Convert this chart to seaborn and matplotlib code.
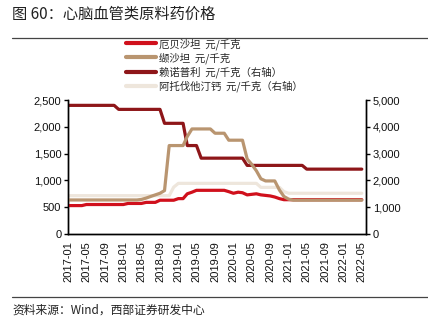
import matplotlib
matplotlib.use("Agg")
import matplotlib.pyplot as plt
import seaborn as sns
import pandas as pd
from matplotlib.lines import Line2D
from matplotlib.ticker import FuncFormatter

# ---------------- data (monthly, 2017-01 .. 2022-05) ----------------
months = pd.date_range("2017-01-01", "2022-05-01", freq="MS")

irbesartan = ([530] * 4 + [550] * 9 + [570] * 4 + [590] * 3 + [630] * 4 + [660] * 2
              + [750, 780] + [815] * 7
              + [790, 760, 780, 770, 730, 740, 750, 730, 720, 710, 690, 660]
              + [640] * 18)
valsartan = ([635] * 16 + [645, 670, 700, 730, 760, 810] + [1650] * 4 + [1820]
             + [1960] * 5 + [1880] * 3 + [1750] * 4 + [1400, 1300, 1180, 1030]
             + [990] * 3 + [820, 700, 650] + [630] * 16)
lisinopril = ([4800] * 11 + [4650] * 10 + [4130] * 5 + [3300] * 3 + [2830] * 10
              + [2560] * 13 + [2420] * 13)
atorvastatin = ([1430] * 23 + [1750] + [1890] * 18 + [1740] * 5 + [1580]
                + [1520] * 17)

labels = ["厄贝沙坦  元/千克", "缬沙坦  元/千克",
          "赖诺普利  元/千克（右轴）", "阿托伐他汀钙  元/千克（右轴）"]
colors = ["#D0101C", "#B99570", "#8E1619", "#EEE6DC"]

tick_labels = ["2017-01", "2017-05", "2017-09", "2018-01", "2018-05", "2018-09",
               "2019-01", "2019-05", "2019-09", "2020-01", "2020-05", "2020-09",
               "2021-01", "2021-05", "2021-09", "2022-01", "2022-05"]
left_ticks = [0, 500, 1000, 1500, 2000, 2500]
right_ticks = [0, 1000, 2000, 3000, 4000, 5000]

# ---------------- style ----------------
sns.set_style("white")
plt.rcParams["font.family"] = ["Liberation Sans", "Noto Sans CJK SC", "DejaVu Sans"]
CJK = ["Noto Sans CJK SC", "DejaVu Sans"]

W, H = 428, 324
fig = plt.figure(figsize=(W / 100, H / 100), dpi=100)
ax = fig.add_axes([68.3 / W, 90 / H, 297.4 / W, 134 / H])
ax2 = ax.twinx()

df_left = pd.DataFrame({"date": months, "a": irbesartan, "b": valsartan})
df_right = pd.DataFrame({"date": months, "c": lisinopril, "d": atorvastatin})

lw = 2.3
sns.lineplot(data=df_right, x="date", y="d", ax=ax2, color=colors[3], lw=lw)
sns.lineplot(data=df_right, x="date", y="c", ax=ax2, color=colors[2], lw=lw)
sns.lineplot(data=df_left, x="date", y="a", ax=ax, color=colors[0], lw=lw)
sns.lineplot(data=df_left, x="date", y="b", ax=ax, color=colors[1], lw=lw)

ax.set_zorder(ax2.get_zorder() + 1)
ax.patch.set_visible(False)

# axes limits / ticks
xt = pd.to_datetime(tick_labels)
ax.set_xlim(pd.Timestamp("2017-01-01"), pd.Timestamp("2022-05-27"))
ax.set_xticks(xt)
ax.set_xticklabels(tick_labels, rotation=90, fontsize=8)
ax.set_ylim(0, 2500)
ax.set_yticks(left_ticks)
ax2.set_ylim(0, 5000)
ax2.set_yticks(right_ticks)
fmt = FuncFormatter(lambda v, p: f"{int(v):,}")
ax.yaxis.set_major_formatter(fmt)
ax2.yaxis.set_major_formatter(fmt)
ax.set_xlabel("")
ax.set_ylabel("")
ax2.set_ylabel("")
ax2.set_xlabel("")

for a in (ax, ax2):
    a.grid(False)
    a.spines["top"].set_visible(False)
    for s in ("left", "right", "bottom"):
        a.spines[s].set_color("black")
        a.spines[s].set_linewidth(1.0)
    a.tick_params(axis="both", direction="out", length=3, width=1, colors="black",
                  labelsize=8, labelcolor="#111111")
ax.tick_params(axis="x", pad=2)
ax.tick_params(axis="y", pad=2)
ax2.tick_params(axis="y", pad=2)
ax.yaxis.set_ticks_position("left")
ax2.yaxis.set_ticks_position("right")

# legend
handles = [Line2D([0], [0], color=c, lw=3) for c in colors]
fig.legend(handles, labels, loc="upper left", bbox_to_anchor=(126 / W, 1 - 38 / H),
           frameon=False, prop={"family": CJK, "size": 7.5}, handlelength=2.9,
           handletextpad=0.3, labelspacing=0.25, borderaxespad=0, borderpad=0)

# title, rules, source
fig.text(12 / W, 1 - 14 / H, "图 60：心脑血管类原料药价格", fontsize=11,
         family=CJK, color="#222222", va="center", ha="left")
fig.add_artist(Line2D([12 / W, 1.0], [1 - 37.5 / H] * 2, transform=fig.transFigure,
                      color="#444444", lw=0.9))
fig.add_artist(Line2D([12 / W, 1.0], [1 - 296.5 / H] * 2, transform=fig.transFigure,
                      color="#444444", lw=0.9))
fig.text(12 / W, 1 - 310 / H, "资料来源：Wind，西部证券研发中心", fontsize=8.5,
         family=CJK, color="#222222", va="center", ha="left")

fig.savefig("out.png", dpi=100)
